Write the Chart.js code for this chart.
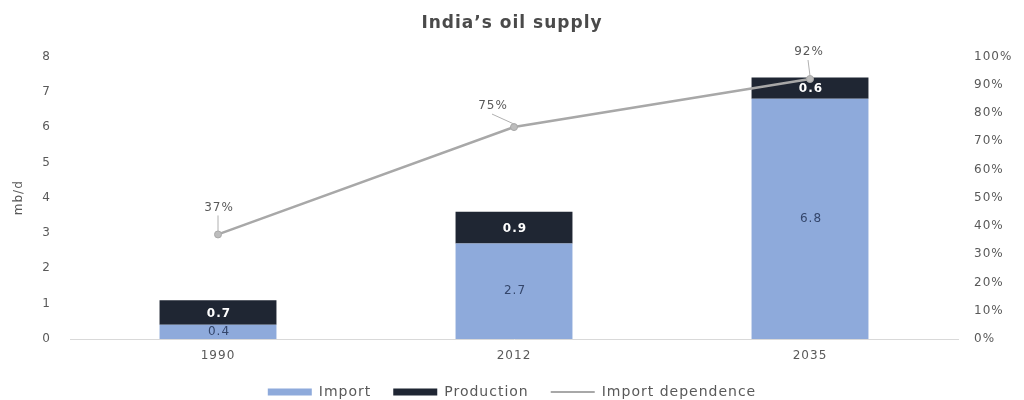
<!DOCTYPE html>
<html>
<head>
<meta charset="utf-8">
<script src="https://cdn.jsdelivr.net/npm/chart.js@4.4.0/dist/chart.umd.min.js"></script>
<style>
  html, body { margin: 0; padding: 0; background: #fff; }
  #wrap { width: 1024px; height: 400px; }
</style>
</head>
<body>
<div id="wrap"><canvas id="oilChart" width="1024" height="400"></canvas></div>
<script>
const years = ["1990", "2012", "2035"];
const importVals = [0.4, 2.7, 6.8];
const productionVals = [0.7, 0.9, 0.6];
const dependencePct = [37, 75, 92];

// where each percentage label sits relative to its point (px)
const calloutOffsets = [[0, -27], [-22, -21], [-2, -27]];

const tickFont = { family: "DejaVu Sans", size: 12 };
const grey = "#595959";

// slightly wider lettering for every text on the canvas
const spacing = {
    id: "spacing",
    beforeUpdate(chart) { chart.ctx.letterSpacing = "1px"; },
    beforeDraw(chart) { chart.ctx.letterSpacing = "1px"; }
};

// values written on the bar segments, plus the % callouts on the line
const barLabels = {
    id: "barLabels",
    afterDatasetsDraw(chart) {
        const ctx = chart.ctx;
        ctx.save();
        ctx.textAlign = "center";
        ctx.textBaseline = "middle";
        chart.getDatasetMeta(0).data.forEach((bar, i) => {
            ctx.font = "12px 'DejaVu Sans'";
            ctx.fillStyle = "#34466b";
            ctx.fillText(importVals[i].toFixed(1), bar.x + 1, (bar.y + bar.base) / 2);
        });
        chart.getDatasetMeta(1).data.forEach((bar, i) => {
            ctx.font = "bold 12px 'DejaVu Sans'";
            ctx.fillStyle = "#ffffff";
            ctx.fillText(productionVals[i].toFixed(1), bar.x + 1, (bar.y + bar.base) / 2 + 1);
        });

        chart.getDatasetMeta(2).data.forEach((pt, i) => {
            const lx = pt.x + calloutOffsets[i][0];
            const ly = pt.y + calloutOffsets[i][1];
            ctx.strokeStyle = "#b0b0b0";
            ctx.lineWidth = 1;
            ctx.beginPath();
            ctx.moveTo(lx, ly + 8);
            ctx.lineTo(pt.x, pt.y - 3);
            ctx.stroke();
            ctx.font = "12px 'DejaVu Sans'";
            ctx.fillStyle = grey;
            ctx.fillText(dependencePct[i] + "%", lx + 1, ly);
        });
        ctx.restore();
    }
};

new Chart(document.getElementById("oilChart"), {
    data: {
        labels: years,
        datasets: [
            {
                type: "bar",
                label: "Import",
                data: importVals,
                backgroundColor: "#8eaadb",
                stack: "supply",
                yAxisID: "y",
                barPercentage: 0.79,
                categoryPercentage: 0.5,
                order: 2
            },
            {
                type: "bar",
                label: "Production",
                data: productionVals,
                backgroundColor: "#1f2633",
                stack: "supply",
                yAxisID: "y",
                barPercentage: 0.79,
                categoryPercentage: 0.5,
                order: 2
            },
            {
                type: "line",
                label: "Import dependence",
                data: dependencePct,
                yAxisID: "y2",
                borderColor: "#a8a8a8",
                backgroundColor: "#a8a8a8",
                borderWidth: 2.5,
                pointRadius: 3.5,
                pointBorderWidth: 1,
                pointBorderColor: "#a8a8a8",
                pointBackgroundColor: "#bdbdbd",
                tension: 0,
                order: 1
            }
        ]
    },
    options: {
        responsive: false,
        animation: false,
        layout: { padding: { top: 6, bottom: 0, left: 0, right: 0 } },
        plugins: {
            title: {
                display: true,
                text: "India\u2019s oil supply",
                color: "#4a4a4a",
                font: { family: "DejaVu Sans", size: 17, weight: "bold" },
                padding: { top: 7, bottom: 23 }
            },
            legend: {
                position: "bottom",
                maxHeight: 37,
                labels: {
                    usePointStyle: true,
                    pointStyleWidth: 44,
                    boxHeight: 7,
                    color: grey,
                    font: { family: "DejaVu Sans", size: 14 },
                    padding: 22,
                    generateLabels(chart) {
                        return chart.data.datasets.map((ds, i) => ({
                            text: ds.label,
                            fillStyle: ds.type === "line" ? ds.borderColor : ds.backgroundColor,
                            strokeStyle: ds.type === "line" ? ds.borderColor : ds.backgroundColor,
                            lineWidth: ds.type === "line" ? 2 : 0,
                            pointStyle: ds.type === "line" ? "line" : "rect",
                            fontColor: grey,
                            datasetIndex: i
                        }));
                    }
                }
            },
            tooltip: { enabled: false }
        },
        scales: {
            x: {
                stacked: true,
                grid: { display: false },
                border: { color: "#d9d9d9" },
                ticks: { color: grey, font: tickFont, padding: 2 },
                afterFit(scale) { scale.height = 24; }
            },
            y: {
                stacked: true,
                position: "left",
                min: 0,
                max: 8,
                grid: { display: false },
                border: { display: false },
                ticks: { stepSize: 1, color: grey, font: tickFont, padding: 11 },
                title: {
                    display: true,
                    text: "mb/d",
                    color: grey,
                    font: { family: "DejaVu Sans", size: 12 },
                    padding: { top: 12, bottom: 0 }
                },
                afterFit(scale) { scale.width = 70; }
            },
            y2: {
                position: "right",
                min: 0,
                max: 100,
                grid: { display: false },
                border: { display: false },
                ticks: { stepSize: 10, color: grey, font: tickFont, padding: 8, callback: v => v + "%" },
                afterFit(scale) { scale.width = 66; }
            }
        }
    },
    plugins: [spacing, barLabels]
});
</script>
</body>
</html>
